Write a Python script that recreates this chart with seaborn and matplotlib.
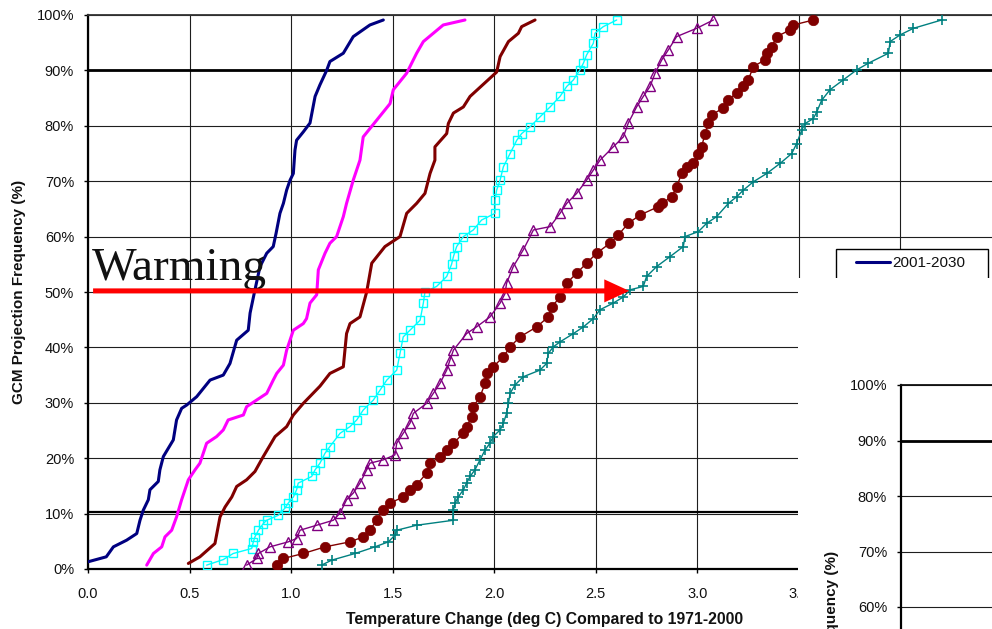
import matplotlib
matplotlib.use("Agg")
import matplotlib.pyplot as plt
import seaborn as sns
from matplotlib.lines import Line2D
from matplotlib.legend_handler import HandlerLine2D
from matplotlib.patches import Rectangle
from matplotlib.ticker import FuncFormatter

# ---------------- data ----------------
labels = ["2001-2030", "2011-2040", "2021-2050", "2031-2060",
          "2041-2070", "2051-2080", "2061-2090"]

x_2001 = [0.00, 0.09, 0.125, 0.19, 0.24, 0.256, 0.272, 0.297, 0.305, 0.346,
          0.354, 0.371, 0.42, 0.436, 0.461, 0.486, 0.535, 0.601, 0.666, 0.699,
          0.732, 0.789, 0.798, 0.822, 0.847, 0.88, 0.912, 0.926, 0.945, 0.962,
          0.978, 0.995, 1.011, 1.019, 1.027, 1.06, 1.093, 1.118, 1.142, 1.175,
          1.191, 1.257, 1.306, 1.388, 1.454]
y_2001 = [1.3, 2.2, 4.0, 5.2, 6.4, 8.8, 10.6, 12.5, 14.3, 15.8,
          17.9, 20.3, 23.3, 26.9, 29.0, 29.6, 31.1, 34.1, 35.0, 37.1,
          41.3, 43.1, 46.2, 50.4, 54.6, 57.0, 58.2, 60.6, 64.2, 66.0,
          68.4, 70.2, 71.4, 75.6, 77.4, 78.9, 80.5, 85.3, 87.4, 90.0,
          91.6, 93.1, 96.1, 98.2, 99.1]

x_2011 = [0.289, 0.322, 0.363, 0.379, 0.412, 0.436, 0.461, 0.494, 0.527, 0.551,
          0.584, 0.633, 0.666, 0.69, 0.765, 0.781, 0.88, 0.912, 0.929, 0.962,
          0.978, 1.011, 1.06, 1.076, 1.093, 1.126, 1.134, 1.167, 1.191, 1.224,
          1.257, 1.273, 1.306, 1.339, 1.355, 1.421, 1.487, 1.503, 1.569, 1.618,
          1.651, 1.749, 1.856]
y_2011 = [0.7, 2.8, 4.0, 5.8, 7.0, 9.4, 12.5, 16.1, 17.9, 19.1,
          22.7, 23.9, 25.1, 26.9, 27.8, 29.3, 31.7, 34.1, 35.3, 36.8,
          39.5, 43.1, 44.3, 45.2, 48.0, 49.5, 54.0, 57.0, 58.8, 60.0,
          63.6, 66.0, 70.2, 73.8, 78.0, 81.0, 84.0, 86.5, 89.5, 93.1,
          95.2, 98.2, 99.1]

x_2021 = [0.494, 0.551, 0.625, 0.65, 0.675, 0.708, 0.732, 0.781, 0.822, 0.863,
          0.921, 0.978, 1.011, 1.06, 1.142, 1.191, 1.257, 1.273, 1.29, 1.339,
          1.372, 1.397, 1.462, 1.536, 1.569, 1.618, 1.659, 1.684, 1.708, 1.708,
          1.766, 1.774, 1.799, 1.848, 1.881, 2.012, 2.029, 2.07, 2.119, 2.135,
          2.201]
y_2021 = [1.0, 2.2, 4.6, 9.4, 11.2, 13.0, 14.9, 16.1, 17.6, 20.3,
          23.9, 25.7, 27.8, 29.9, 33.0, 35.3, 36.5, 42.5, 44.3, 45.5,
          50.0, 55.2, 58.2, 60.0, 64.2, 66.0, 67.8, 71.4, 73.8, 76.2,
          78.6, 80.4, 82.3, 83.4, 85.3, 89.7, 92.5, 95.2, 96.7, 97.9,
          99.1]

x_2031 = [0.584, 0.666, 0.715, 0.806, 0.814, 0.822, 0.839, 0.863, 0.88, 0.937,
          0.97, 0.986, 1.011, 1.027, 1.035, 1.101, 1.118, 1.142, 1.167, 1.191,
          1.241, 1.29, 1.323, 1.355, 1.405, 1.438, 1.471, 1.52, 1.536, 1.552,
          1.585, 1.635, 1.651, 1.659, 1.716, 1.766, 1.79, 1.80, 1.815, 1.848,
          1.897, 1.938, 2.004, 2.004, 2.012, 2.029, 2.045, 2.078, 2.111, 2.135,
          2.176, 2.225, 2.275, 2.324, 2.357, 2.39, 2.422, 2.439, 2.455, 2.488,
          2.496, 2.537, 2.603]
y_2031 = [0.7, 1.7, 2.8, 3.7, 4.9, 5.8, 7.0, 8.2, 8.8, 9.7,
          11.0, 11.9, 13.0, 14.3, 15.5, 16.7, 17.9, 19.1, 20.9, 22.1,
          24.5, 25.7, 26.9, 28.7, 30.5, 32.3, 34.1, 35.9, 38.9, 41.9,
          43.1, 44.9, 48.0, 50.0, 51.0, 52.8, 55.0, 56.5, 58.2, 60.0,
          61.2, 63.0, 64.2, 66.6, 68.4, 70.2, 72.6, 75.0, 77.4, 78.6,
          79.8, 81.6, 83.4, 85.3, 87.1, 88.3, 90.1, 91.3, 92.8, 94.9,
          96.7, 97.9, 99.1]

x_2041 = [0.781, 0.831, 0.839, 0.896, 0.986, 1.027, 1.044, 1.126, 1.208, 1.241,
          1.273, 1.306, 1.339, 1.372, 1.388, 1.454, 1.511, 1.52, 1.552, 1.585,
          1.602, 1.667, 1.70, 1.733, 1.766, 1.782, 1.799, 1.864, 1.913, 1.979,
          2.029, 2.053, 2.061, 2.094, 2.143, 2.193, 2.275, 2.324, 2.357, 2.406,
          2.455, 2.488, 2.521, 2.586, 2.636, 2.66, 2.701, 2.734, 2.767, 2.792,
          2.825, 2.857, 2.898, 2.997, 3.079]
y_2041 = [0.7, 1.9, 2.8, 4.0, 4.9, 5.5, 7.0, 7.9, 8.8, 10.1,
          12.5, 13.7, 15.5, 17.9, 19.1, 19.7, 20.6, 22.7, 24.5, 26.3,
          28.1, 29.9, 31.7, 33.5, 35.9, 37.7, 39.5, 42.5, 43.7, 45.5,
          48.0, 49.7, 51.6, 54.6, 57.6, 61.2, 61.8, 64.2, 66.0, 67.8,
          70.2, 72.0, 73.8, 76.2, 78.0, 80.5, 83.4, 85.3, 87.1, 89.5,
          91.9, 93.7, 96.1, 97.6, 99.1]

x_2051 = [0.929, 0.962, 1.06, 1.167, 1.29, 1.355, 1.388, 1.421, 1.454, 1.487,
          1.552, 1.585, 1.618, 1.667, 1.684, 1.733, 1.766, 1.799, 1.848, 1.864,
          1.889, 1.897, 1.93, 1.955, 1.963, 1.995, 2.045, 2.078, 2.127, 2.209,
          2.266, 2.283, 2.324, 2.357, 2.406, 2.455, 2.504, 2.57, 2.611, 2.66,
          2.718, 2.808, 2.825, 2.874, 2.898, 2.923, 2.947, 2.98, 3.005, 3.021,
          3.038, 3.054, 3.071, 3.128, 3.153, 3.194, 3.227, 3.251, 3.276, 3.333,
          3.342, 3.366, 3.391, 3.456, 3.473, 3.571]
y_2051 = [0.7, 1.9, 2.8, 4.0, 4.9, 5.8, 7.0, 8.8, 10.6, 11.9,
          13.0, 14.3, 15.2, 17.3, 19.1, 20.3, 21.5, 22.7, 24.5, 25.7,
          27.5, 29.3, 31.1, 33.5, 35.3, 36.5, 38.3, 40.1, 41.9, 43.7,
          45.5, 47.3, 49.1, 51.6, 53.4, 55.2, 57.0, 58.8, 60.3, 62.4,
          63.9, 65.4, 66.0, 67.2, 69.0, 71.4, 72.6, 73.2, 75.0, 76.2,
          78.6, 80.5, 82.0, 83.2, 84.7, 85.9, 87.1, 88.3, 90.7, 91.9,
          93.1, 94.3, 96.1, 97.3, 98.2, 99.1]

x_2061 = [1.15, 1.2, 1.315, 1.413, 1.479, 1.511, 1.52, 1.618, 1.799, 1.799,
          1.807, 1.823, 1.848, 1.864, 1.881, 1.905, 1.93, 1.955, 1.979, 1.995,
          2.029, 2.045, 2.061, 2.07, 2.078, 2.102, 2.143, 2.225, 2.258, 2.266,
          2.291, 2.324, 2.39, 2.439, 2.488, 2.521, 2.586, 2.636, 2.669, 2.734,
          2.75, 2.8, 2.866, 2.931, 2.939, 3.005, 3.046, 3.095, 3.153, 3.194,
          3.227, 3.276, 3.342, 3.407, 3.465, 3.489, 3.514, 3.53, 3.571, 3.588,
          3.612, 3.653, 3.719, 3.785, 3.842, 3.941, 3.949, 3.998, 4.064, 4.203]
y_2061 = [0.7, 1.6, 2.8, 4.0, 4.9, 6.1, 7.0, 7.9, 8.8, 10.6,
          11.9, 13.0, 14.3, 15.5, 16.7, 17.9, 19.7, 21.5, 22.7, 23.9,
          25.1, 26.3, 28.1, 29.9, 31.7, 33.2, 34.7, 35.9, 37.1, 38.9,
          40.1, 41.0, 42.5, 43.7, 45.2, 46.8, 48.0, 49.1, 50.4, 51.0,
          52.8, 54.6, 56.4, 58.2, 60.0, 60.9, 62.4, 63.6, 66.0, 67.2,
          68.4, 69.9, 71.4, 73.2, 75.0, 76.8, 79.2, 80.4, 81.3, 82.5,
          84.6, 86.5, 88.3, 90.1, 91.3, 93.1, 95.2, 96.4, 97.6, 99.1]

x_ticks = [0.0, 0.5, 1.0, 1.5, 2.0, 2.5, 3.0, 3.5, 4.0, 4.5]
y_ticks = [0, 10, 20, 30, 40, 50, 60, 70, 80, 90, 100]
p10_line = 10.35
p90_line = 90.0
arrow_level = 50.2

# ---------------- styling ----------------
sns.set_style("ticks")
plt.rcParams['font.family'] = ['Liberation Sans', 'DejaVu Sans']

W, H = 992, 629
fig = plt.figure(figsize=(W / 100, H / 100), dpi=100)


def fx(px):
    return px / W


def fy(py):
    return 1 - py / H


ax = fig.add_axes([fx(88), fy(569), (1002 - 88) / W, (569 - 15) / H])
ax.set_zorder(0)

series = [
    (x_2001, y_2001, dict(color="#000080", linewidth=2.2)),
    (x_2011, y_2011, dict(color="#FF00FF", linewidth=2.2)),
    (x_2021, y_2021, dict(color="#800000", linewidth=2.2)),
    (x_2031, y_2031, dict(color="#00FFFF", linewidth=1.0, marker="s", markersize=6.0,
                          markerfacecolor="none", markeredgecolor="#00FFFF",
                          markeredgewidth=1.0)),
    (x_2041, y_2041, dict(color="#800080", linewidth=1.0, marker="^", markersize=6.5,
                          markerfacecolor="none", markeredgecolor="#800080",
                          markeredgewidth=1.0)),
    (x_2051, y_2051, dict(color="#800000", linewidth=1.0, marker="o", markersize=7.5,
                          markerfacecolor="#800000", markeredgecolor="#800000",
                          markeredgewidth=0.5)),
    (x_2061, y_2061, dict(color="#008080", linewidth=1.0, marker="+", markersize=7,
                          markeredgecolor="#008080", markeredgewidth=1.2)),
]

handles = []
for xs, ys, kw in series:
    sns.lineplot(x=xs, y=ys, ax=ax, sort=False, estimator=None, legend=False,
                 zorder=3, **kw)
    handles.append(ax.lines[-1])

ax.set_xlim(0, 4.5)
ax.set_ylim(0, 100)
ax.set_xticks(x_ticks)
ax.set_yticks(y_ticks)
ax.xaxis.set_major_formatter(FuncFormatter(lambda v, p: f"{v:.1f}"))
ax.yaxis.set_major_formatter(FuncFormatter(lambda v, p: f"{v:.0f}%"))
ax.grid(True, color="#1e1e1e", linewidth=0.8)
ax.set_axisbelow(True)
ax.axhline(p90_line, color="black", lw=2.0, zorder=2)
ax.axhline(p10_line, color="black", lw=1.6, zorder=2)

for side in ["left", "bottom"]:
    ax.spines[side].set_linewidth(1.6)
    ax.spines[side].set_color("black")
ax.spines["top"].set_visible(True)
ax.spines["top"].set_linewidth(1.3)
ax.spines["top"].set_color("#333333")
ax.spines["right"].set_visible(False)

ax.tick_params(axis="both", direction="out", length=3, width=1, color="black",
               labelsize=10.5, labelcolor="#111111")
ax.tick_params(axis="y", pad=7)
ax.tick_params(axis="x", pad=10)

ax.set_xlabel("Temperature Change (deg C) Compared to 1971-2000",
              fontweight="bold", fontsize=11.3, color="#111111")
ax.xaxis.set_label_coords(0.5, -0.077)
ax.set_ylabel("GCM Projection Frequency (%)", fontweight="bold",
              fontsize=11, color="#111111")
ax.yaxis.set_label_coords(-0.068, 0.5)

# Warming annotation
ax.text(0.02, 52.2, "Warming", family=["Liberation Serif", "DejaVu Serif"],
        fontsize=34, va="baseline", ha="left", color="#111111", zorder=5)
ax.annotate("", xy=(2.665, arrow_level), xytext=(0.025, arrow_level),
            arrowprops=dict(arrowstyle="simple,head_length=1.8,head_width=1.66,tail_width=0.36",
                            mutation_scale=10, facecolor="#FF0000",
                            edgecolor="none", lw=0, shrinkA=0, shrinkB=0),
            zorder=6)

# Legend (partly hidden, as in the reference)
leg = ax.legend(handles, labels, loc="upper left",
                bbox_to_anchor=(fx(836), fy(249) - 0.01, fx(988) - fx(836), 0.01),
                bbox_transform=fig.transFigure, mode="expand", borderaxespad=0,
                frameon=True, fancybox=False, edgecolor="black", fontsize=11,
                handlelength=3.08, handletextpad=0.13, borderpad=0.45,
                labelspacing=0.5,
                handler_map={Line2D: HandlerLine2D(xpad=0.85)})
leg.get_frame().set_linewidth(1.0)
leg.get_frame().set_alpha(1)
for t in leg.get_texts():
    t.set_color("#111111")

# white cover over the lower right
cover = Rectangle((fx(798), 0), 1 - fx(798), fy(278), transform=fig.transFigure,
                  facecolor="white", edgecolor="none", zorder=1)
fig.add_artist(cover)

# second chart fragment in the lower right
ax2 = fig.add_axes([fx(901), fy(940), (1002 - 88) / W, 555 / H])
ax2.set_zorder(2)
ax2.set_facecolor("white")
ax2.set_xlim(0, 4.5)
ax2.set_ylim(0, 100)
ax2.set_yticks(y_ticks)
ax2.set_xticks(x_ticks)
ax2.set_xticklabels([])
ax2.yaxis.set_major_formatter(FuncFormatter(lambda v, p: f"{v:.0f}%"))
ax2.grid(True, axis="y", color="#1e1e1e", linewidth=0.8)
ax2.set_axisbelow(True)
ax2.axhline(p90_line, color="black", lw=2.0, zorder=2)
ax2.spines["left"].set_linewidth(1.6)
ax2.spines["left"].set_color("black")
ax2.spines["top"].set_visible(True)
ax2.spines["top"].set_linewidth(1.3)
ax2.spines["top"].set_color("#111111")
ax2.spines["right"].set_visible(False)
ax2.spines["bottom"].set_visible(False)
ax2.tick_params(axis="y", direction="out", length=3, width=1, color="black",
                labelsize=10.5, labelcolor="#111111", pad=7)
ax2.tick_params(axis="x", length=0)
ax2.set_ylabel("GCM Projection Frequency (%)", fontweight="bold",
               fontsize=11, color="#111111")
ax2.yaxis.set_label_coords(-0.068, 0.5)

fig.savefig("out.png", dpi=100)
